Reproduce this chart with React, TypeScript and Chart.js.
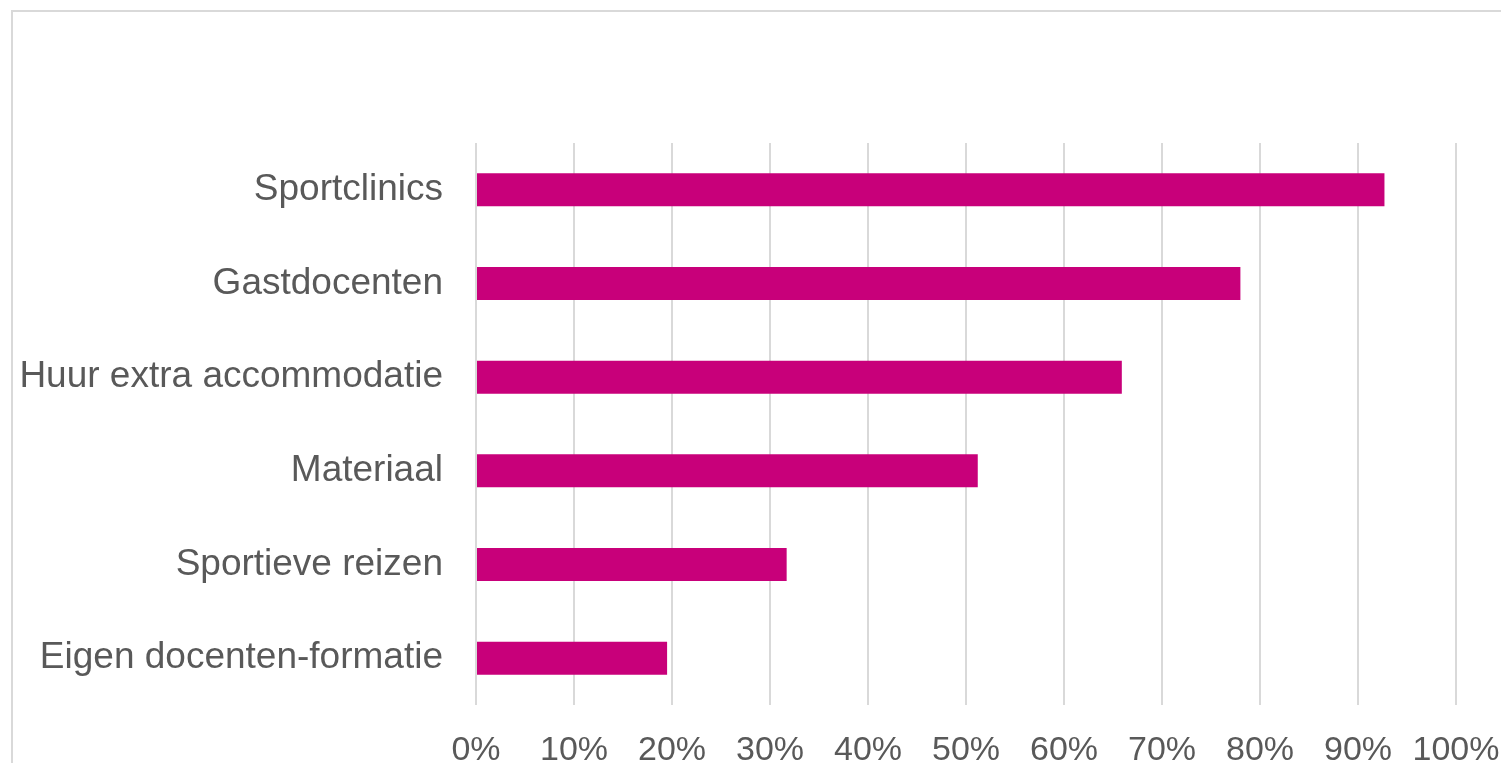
import React, { useEffect, useRef } from "react";
import { Chart, registerables } from "chart.js";

Chart.register(...registerables);

const categories = [
  "Sportclinics",
  "Gastdocenten",
  "Huur extra accommodatie",
  "Materiaal",
  "Sportieve reizen",
  "Eigen docenten-formatie",
];
const values = [92.7, 78.0, 65.9, 51.2, 31.7, 19.5];

const FONT = "'Liberation Sans', Arial, sans-serif";
const TEXT = "#595959";

export default function App() {
  const ref = useRef<HTMLCanvasElement | null>(null);

  useEffect(() => {
    document.body.style.margin = "0";
    const ctx = ref.current!;
    const chart = new Chart(ctx, {
      type: "bar",
      data: {
        labels: categories,
        datasets: [
          {
            data: values,
            backgroundColor: "#C8007A",
            borderWidth: 0,
            categoryPercentage: 1,
            barPercentage: 0.352,
          },
        ],
      },
      options: {
        indexAxis: "y",
        animation: false,
        responsive: false,
        devicePixelRatio: 1,
        layout: { padding: { top: 143, right: 45, bottom: 0, left: 0 } },
        plugins: { legend: { display: false }, tooltip: { enabled: false } },
        scales: {
          x: {
            min: 0,
            max: 100,
            ticks: {
              stepSize: 10,
              callback: (v: any) => v + "%",
              color: TEXT,
              font: { family: FONT, size: 34 },
              padding: 25,
              maxRotation: 0,
            },
            grid: { color: "#d9d9d9", lineWidth: 2, drawTicks: false },
            border: { display: false },
            afterFit: (s: any) => {
              s.height = 58;
              s.paddingLeft = 0;
              s.paddingRight = 0;
            },
          },
          y: {
            ticks: {
              color: TEXT,
              font: { family: FONT, size: 37 },
              padding: 33,
            },
            grid: { display: false, drawTicks: false },
            border: { display: false },
            afterFit: (s: any) => {
              s.width = 476;
              s.paddingTop = 0;
              s.paddingBottom = 0;
            },
          },
        },
      },
    });
    return () => chart.destroy();
  }, []);

  return (
    <div style={{ position: "relative", width: 1501, height: 763, overflow: "hidden", background: "#fff" }}>
      <div
        style={{
          position: "absolute",
          left: 11,
          top: 10,
          width: 1600,
          height: 900,
          border: "2px solid #d9d9d9",
          boxSizing: "border-box",
        }}
      />
      <canvas ref={ref} width={1501} height={763} style={{ position: "absolute", left: 0, top: 0 }} />
    </div>
  );
}
